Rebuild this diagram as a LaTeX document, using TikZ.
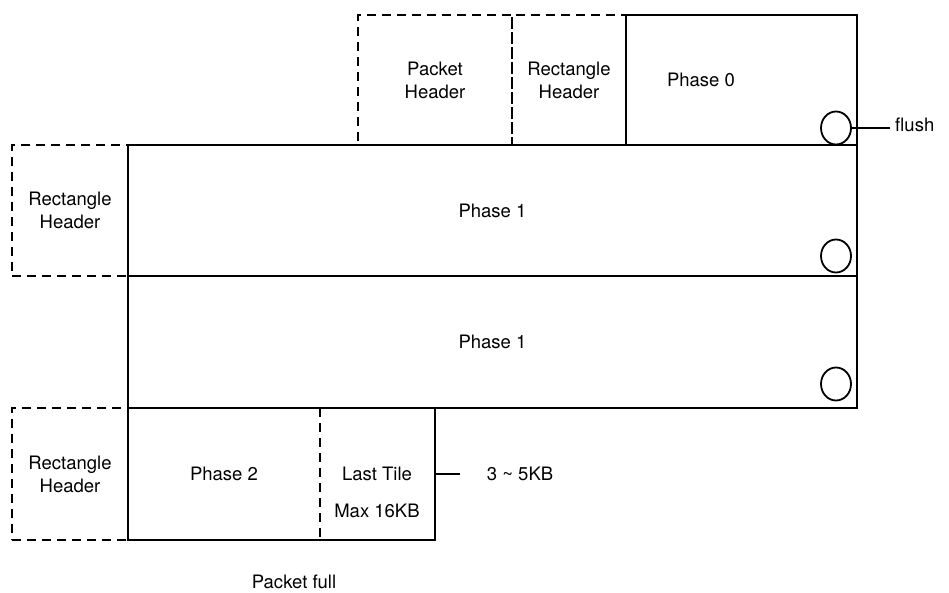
\documentclass[tikz,border=0pt]{standalone}
\usepackage{fontspec}
\setmainfont{TeX Gyre Heros}
\usetikzlibrary{shapes.geometric}
\begin{document}
\begin{tikzpicture}[x=1pt,y=-1pt,
  every node/.style={font=\fontsize{18.5}{23}\selectfont, align=center},
  box/.style={draw, line width=1.8pt, rectangle, outer sep=0pt, inner sep=0pt, anchor=north west},
  dbox/.style={draw, line width=1.8pt, dash pattern=on 9pt off 6pt, rectangle, outer sep=0pt, inner sep=0pt, anchor=north west},
  ring/.style={draw, line width=1.8pt, ellipse, minimum width=30pt, minimum height=33pt, inner sep=0pt},
  lbl/.style={inner sep=0pt},
  conn/.style={line width=1.8pt}
]
\useasboundingbox (0,0) rectangle (949,592);
% dashed header boxes
\node[dbox, minimum width=154pt, minimum height=130pt] (ph) at (358,15) {Packet\\Header};
\node[dbox, minimum width=114pt, minimum height=130pt] (rh0) at (512,15) {Rectangle\\Header};
\node[dbox, minimum width=116pt, minimum height=131pt] (rh1) at (12,145) {Rectangle\\Header};
\node[dbox, minimum width=116pt, minimum height=132pt] (rh2) at (12,408) {Rectangle\\Header};
% solid boxes
\node[box, minimum width=231pt, minimum height=130pt] (p0) at (626,15) {};
\node[lbl] (p0t) at (701,80) {Phase 0};
\node[box, minimum width=729pt, minimum height=131pt] (p1a) at (128,145) {Phase 1};
\node[box, minimum width=729pt, minimum height=132pt] (p1b) at (128,276) {Phase 1};
\node[box, minimum width=307pt, minimum height=132pt] (p2) at (128,408) {};
\node[lbl] (p2t) at (224,474) {Phase 2};
\draw[line width=1.8pt, dash pattern=on 9pt off 6pt] (320,408) -- (320,540);
\node[lbl] (lt) at (377,474) {Last Tile};
\node[lbl] (mx) at (377,511) {Max 16KB};
% rings
\node[ring] (c0) at (836,128) {};
\node[ring] (c1) at (836,256) {};
\node[ring] (c2) at (836,384) {};
% flush
\node[lbl, anchor=west] (fl) at (895,125) {flush};
\coordinate (flend) at (890,128);
\draw[conn] (c0.east) -- (flend);
% 3~5KB
\coordinate (kbend) at (460,474);
\node[lbl] (kb) at (520,474) {3 \textasciitilde\ 5KB};
\draw[conn] (p2.east) -- (kbend);
% packet full
\node[lbl] (pf) at (294,582) {Packet full};
\end{tikzpicture}
\end{document}
